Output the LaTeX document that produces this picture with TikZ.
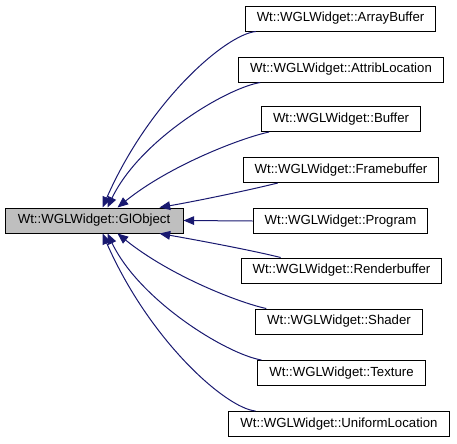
\documentclass[tikz,border=0pt]{standalone}
\usepackage{fontspec}
\setmainfont{Liberation Sans}
\usetikzlibrary{calc,arrows.meta}
\definecolor{edgeblue}{HTML}{191970}
\tikzset{
  cls/.style={draw=black, line width=0.75pt, minimum height=18.75pt, inner xsep=8.6pt, inner ysep=0pt, font=\fontsize{9.9}{12}\selectfont},
  inh/.style={draw=edgeblue, line width=0.75pt, -{Triangle[length=8pt,width=6.5pt]}, fill=none},
}

\begin{document}
\begin{tikzpicture}[x=0.75pt, y=-0.75pt]
			%%%%% START %%%%%
			\useasboundingbox (0, 0) rectangle (457, 443);
			
			\node[cls, fill=black!25, minimum width=133.5pt, inner xsep=0pt] (gl) at (94, 220.5) {Wt::WGLWidget::GlObject};
			
			\node[cls] (ab) at (340.5, 18.5) {Wt::WGLWidget::ArrayBuffer};
			\node[cls] (al) at (341, 69.5) {Wt::WGLWidget::AttribLocation};
			\node[cls] (bu) at (341, 119) {Wt::WGLWidget::Buffer};
			\node[cls] (fb) at (341, 170) {Wt::WGLWidget::Framebuffer};
			\node[cls] (pr) at (340.5, 221) {Wt::WGLWidget::Program};
			\node[cls] (rb) at (341.5, 270.5) {Wt::WGLWidget::Renderbuffer};
			\node[cls] (sh) at (339, 321.5) {Wt::WGLWidget::Shader};
			\node[cls] (tx) at (341.5, 373) {Wt::WGLWidget::Texture};
			\node[cls] (ul) at (339, 424) {Wt::WGLWidget::UniformLocation};
			
			% upper children
			\draw[inh] ($(ab.south west)+(11, 0)$) .. controls +(-30, 3) and +(47, -107) .. ($(gl.north west)+(98, 0)$);
			\draw[inh] ($(al.south west)+(22, 0)$) .. controls +(-35, 6) and +(32, -67) .. ($(gl.north west)+(103, 0)$);
			\draw[inh] ($(bu.south west)+(8, 0)$) .. controls +(-28, 6) and +(52, -42) .. ($(gl.north west)+(113, 0)$);
			\draw[inh] ($(fb.south west)+(35, 0)$) .. controls +(-28, 7) and +(40, -7) .. ($(gl.north west)+(155, 0)$);
			
			\draw[inh] (pr.west) -- (gl.east);
			
			% lower children
			\draw[inh] ($(rb.north west)+(40, 0)$) .. controls +(-28, -7) and +(40, 7) .. ($(gl.south west)+(155, 0)$);
			\draw[inh] ($(sh.north west)+(11, 0)$) .. controls +(-28, -6) and +(52, 42) .. ($(gl.south west)+(113, 0)$);
			\draw[inh] ($(tx.north west)+(4, 0)$) .. controls +(-35, -6) and +(32, 67) .. ($(gl.south west)+(103, 0)$);
			\draw[inh] ($(ul.north west)+(27, 0)$) .. controls +(-30, -3) and +(47, 107) .. ($(gl.south west)+(98, 0)$);
			
			%%%%% END %%%%%
\end{tikzpicture}
\end{document}
